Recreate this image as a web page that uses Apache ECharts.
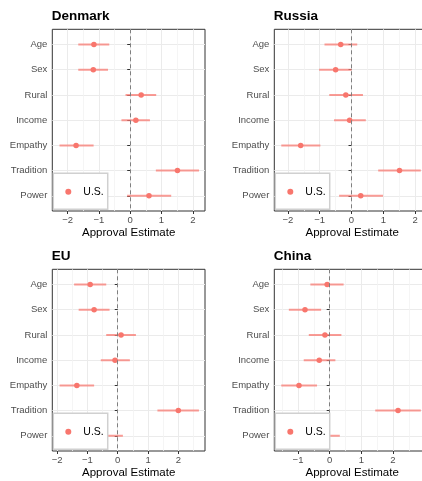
<!DOCTYPE html>
<html>
<head>
<meta charset="utf-8">
<script src="https://cdn.jsdelivr.net/npm/echarts@6/dist/echarts.min.js"></script>
<style>
html,body{margin:0;padding:0;background:#fff;}
#chart{width:422px;height:481px;}
</style>
</head>
<body>
<div id="chart"></div>
<script>
// ---- data ----
const categories = ['Age', 'Sex', 'Rural', 'Income', 'Empathy', 'Tradition', 'Power'];
const panelTitles = ['Denmark', 'Russia', 'EU', 'China'];
const legendLabel = 'U.S.';
const xAxisTitle = 'Approval Estimate';

const dkEst  = [-1.16, -1.18, 0.35, 0.18, -1.73, 1.51, 0.60];
const dkLow  = [-1.66, -1.66, -0.15, -0.28, -2.26, 0.82, -0.10];
const dkHigh = [-0.67, -0.71, 0.83, 0.63, -1.17, 2.20, 1.31];

const ruEst  = [-0.34, -0.50, -0.18, -0.06, -1.60, 1.51, 0.29];
const ruLow  = [-0.85, -1.02, -0.70, -0.55, -2.21, 0.84, -0.39];
const ruHigh = [0.18, 0.00, 0.36, 0.45, -0.98, 2.18, 0.99];

const euEst  = [-0.91, -0.78, 0.11, -0.09, -1.35, 2.00, -0.48];
const euLow  = [-1.44, -1.29, -0.38, -0.56, -1.92, 1.31, -1.03];
const euHigh = [-0.38, -0.27, 0.60, 0.40, -0.78, 2.68, 0.17];

const cnEst  = [-0.08, -0.78, -0.15, -0.33, -0.97, 2.16, -0.20];
const cnLow  = [-0.61, -1.29, -0.66, -0.82, -1.53, 1.44, -0.72];
const cnHigh = [0.44, -0.27, 0.37, 0.18, -0.40, 2.88, 0.32];

const dkTicks = [-2, -1, 0, 1, 2];
const ruTicks = [-2, -1, 0, 1, 2];
const euTicks = [-2, -1, 0, 1, 2];
const cnTicks = [-1, 0, 1, 2, 3];

// ---- layout / styling ----
const FONT = 'Liberation Sans, Arial, Helvetica, sans-serif';
const panels = [
  {est: dkEst, low: dkLow, high: dkHigh, ticks: dkTicks, left: 52.3, top: 29.3, width: 152.7, min: -2.49, max: 2.39},
  {est: ruEst, low: ruLow, high: ruHigh, ticks: ruTicks, left: 274.3, top: 29.3, width: 155.7, min: -2.43, max: 2.47},
  {est: euEst, low: euLow, high: euHigh, ticks: euTicks, left: 52.3, top: 269.3, width: 152.7, min: -2.16, max: 2.88},
  {est: cnEst, low: cnLow, high: cnHigh, ticks: cnTicks, left: 274.3, top: 269.3, width: 155.7, min: -1.75, max: 3.17}
];
const PH = 181.7;
const yIdx = categories.map((c, i) => i + 1);

const grid = [], xAxis = [], yAxis = [], series = [], title = [], legend = [];
const minus = v => String(v).replace('-', '\u2212');

panels.forEach((p, k) => {
  grid.push({left: p.left, top: p.top, width: p.width, height: PH, show: true,
    borderColor: '#333333', borderWidth: 1, backgroundColor: '#ffffff',
    containLabel: false, outerBoundsMode: 'none'});
  const minor = [];
  for (let t = Math.floor(p.min) - 0.5; t <= p.max; t += 1) if (t > p.min && t < p.max) minor.push(t);
  xAxis.push({
    type: 'value', gridIndex: k, min: p.min, max: p.max, position: 'bottom',
    axisLine: {show: false},
    axisTick: {show: true, length: 3, lineStyle: {color: '#333333', width: 1}, customValues: p.ticks},
    axisLabel: {show: true, customValues: p.ticks, formatter: minus, color: '#4D4D4D', fontSize: 9.5,
      fontFamily: FONT, margin: 4.5, showMinLabel: true, showMaxLabel: true},
    splitLine: {show: true, lineStyle: {color: '#EBEBEB', width: 1}},
    name: xAxisTitle, nameLocation: 'middle', nameGap: 14,
    nameTextStyle: {color: '#000000', fontSize: 11.5, fontFamily: FONT}
  });
  xAxis.push({
    type: 'value', gridIndex: k, min: p.min, max: p.max, position: 'top',
    axisLine: {show: false}, axisTick: {show: false, customValues: minor},
    axisLabel: {show: false}, splitLine: {show: true, lineStyle: {color: '#F2F2F2', width: 0.8}}
  });
  yAxis.push({
    type: 'value', gridIndex: k, min: 0.4, max: 7.6, inverse: true,
    axisLine: {show: false},
    axisTick: {show: true, length: 3, lineStyle: {color: '#333333', width: 1}, customValues: yIdx},
    axisLabel: {show: true, customValues: yIdx, formatter: v => categories[Math.round(v) - 1],
      color: '#4D4D4D', fontSize: 9.5, fontFamily: FONT, margin: 5},
    splitLine: {show: true, lineStyle: {color: '#EBEBEB', width: 1}}
  });
  series.push({
    type: 'custom', name: 'U.S. interval', xAxisIndex: 2 * k, yAxisIndex: k, clip: true, z: 3,
    data: categories.map((c, i) => [p.low[i], p.high[i], yIdx[i]]),
    encode: {x: [0, 1], y: 2},
    renderItem: (params, api) => {
      const y = api.value(2);
      const a = api.coord([api.value(0), y]);
      const b = api.coord([api.value(1), y]);
      return {type: 'line', shape: {x1: a[0], y1: a[1], x2: b[0], y2: b[1]},
        style: {stroke: 'rgba(248,118,109,0.72)', lineWidth: 2}};
    },
    markLine: {silent: true, symbol: ['none', 'none'], label: {show: false}, animation: false,
      lineStyle: {color: '#7F7F7F', type: [4, 3], width: 1}, data: [{xAxis: 0}]}
  });
  series.push({
    type: 'scatter', name: legendLabel, xAxisIndex: 2 * k, yAxisIndex: k, z: 4,
    symbol: 'circle', symbolSize: 5.5, itemStyle: {color: '#F8766D', opacity: 1},
    data: categories.map((c, i) => [p.est[i], yIdx[i]])
  });
  title.push({text: panelTitles[k], left: p.left - 0.5, top: 9.5 + (k >= 2 ? 240 : 0), padding: 0,
    textStyle: {fontSize: 13.5, fontWeight: 'bold', color: '#000000', fontFamily: FONT}});
  legend.push({
    data: [legendLabel], left: p.left + 1, top: p.top + 144, orient: 'vertical',
    backgroundColor: '#ffffff', borderColor: '#D0D0D0', borderWidth: 1.5, borderRadius: 0,
    padding: [13, 4, 12, 12], itemWidth: 20, itemHeight: 6, icon: 'circle',
    textStyle: {fontSize: 10.5, color: '#000000', fontFamily: FONT}, selectedMode: false, z: 10
  });
});

const chart = echarts.init(document.getElementById('chart'), null, {renderer: 'canvas'});
chart.setOption({
  animation: false, backgroundColor: '#ffffff',
  textStyle: {fontFamily: FONT},
  title, legend, grid, xAxis, yAxis, series
});
</script>
</body>
</html>
